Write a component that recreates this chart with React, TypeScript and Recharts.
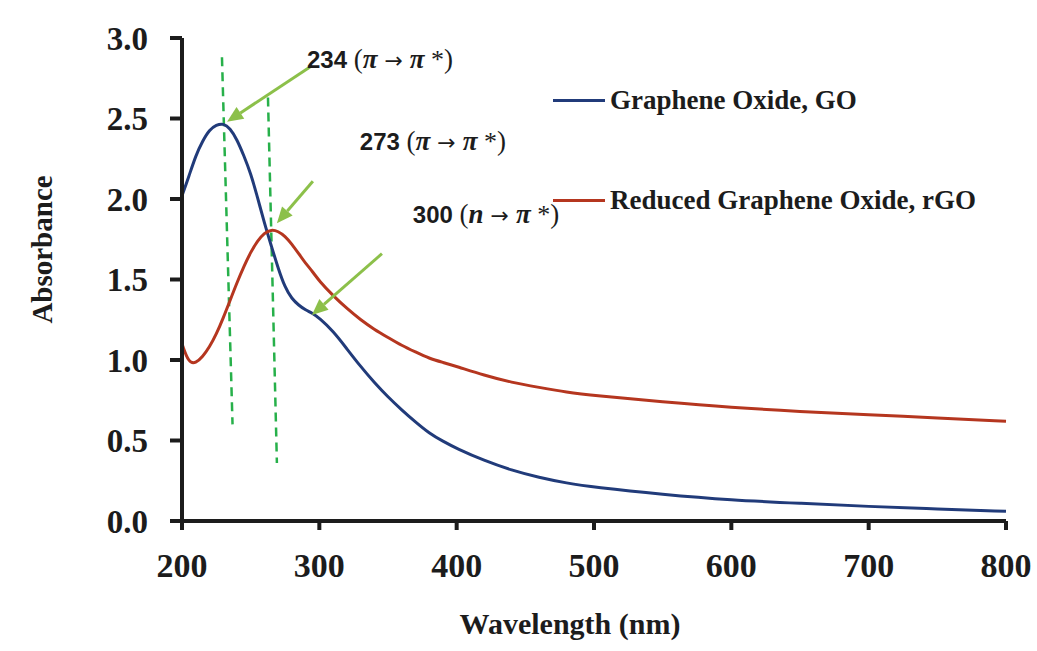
import React from "react";
import {
  LineChart,
  Line,
  XAxis,
  YAxis,
  Legend,
  ReferenceLine,
  ReferenceDot,
} from "recharts";

// UV-Vis spectra
const wavelengths = [
  200, 205, 210, 215, 220, 225, 230, 235, 240, 245, 250, 255, 260, 265, 270,
  275, 280, 285, 290, 295, 300, 310, 320, 330, 340, 350, 360, 370, 380, 390,
  400, 420, 440, 460, 480, 500, 550, 600, 650, 700, 750, 800,
];
const goAbsorbance = [
  2.02, 2.14, 2.27, 2.36, 2.43, 2.46, 2.47, 2.44, 2.37, 2.27, 2.16, 2.01, 1.85,
  1.71, 1.57, 1.45, 1.38, 1.34, 1.31, 1.29, 1.26, 1.18, 1.07, 0.96, 0.86, 0.77,
  0.69, 0.615, 0.545, 0.495, 0.45, 0.375, 0.315, 0.27, 0.235, 0.21, 0.165, 0.13,
  0.11, 0.09, 0.075, 0.06,
];
const rgoAbsorbance = [
  1.1, 0.98, 0.98, 1.02, 1.08, 1.16, 1.26, 1.37, 1.48, 1.58, 1.67, 1.74, 1.79,
  1.81, 1.8, 1.77, 1.72, 1.66, 1.6, 1.55, 1.49, 1.4, 1.32, 1.25, 1.19, 1.14,
  1.09, 1.05, 1.01, 0.985, 0.96, 0.905, 0.86, 0.83, 0.8, 0.78, 0.74, 0.705,
  0.68, 0.66, 0.64, 0.62,
];
const xTicks = [200, 300, 400, 500, 600, 700, 800];
const yTicks = [0, 0.5, 1.0, 1.5, 2.0, 2.5, 3.0];

const seriesNames = ["Graphene Oxide, GO", "Reduced Graphene Oxide, rGO"];
const peakWavelengths = ["234", "273", "300"];
const transitionFrom = ["π", "π", "n"];

const data = wavelengths.map((w, i) => ({
  wavelength: w,
  go: goAbsorbance[i],
  rgo: rgoAbsorbance[i],
}));

const BLUE = "#213b7a";
const RED = "#b5361f";
const INK = "#1c1c1c";
const ARROW = "#8cc04a";
const DASH = "#27b04a";
const serif = "'Liberation Serif', 'Times New Roman', serif";

// where the peak labels and arrows sit (data coordinates)
const labelAnchors = [
  { x: 291, y: 2.814 },
  { x: 329.5, y: 2.304 },
  { x: 368.1, y: 1.851 },
];
const arrows = [
  [{ x: 293.2, y: 2.82 }, { x: 232.8, y: 2.48 }],
  [{ x: 295.3, y: 2.11 }, { x: 269.1, y: 1.85 }],
  [{ x: 345.6, y: 1.66 }, { x: 294.6, y: 1.28 }],
];
const dashedGuides = [
  [{ x: 229.1, y: 2.88 }, { x: 236.8, y: 0.6 }],
  [{ x: 262.6, y: 2.63 }, { x: 269.1, y: 0.36 }],
];

const ArrowShape = (p: any) => {
  const { x1, y1, x2, y2 } = p;
  const ang = Math.atan2(y2 - y1, x2 - x1);
  const len = 16;
  const half = 7;
  const bx = x2 - len * Math.cos(ang);
  const by = y2 - len * Math.sin(ang);
  const px = -Math.sin(ang) * half;
  const py = Math.cos(ang) * half;
  return (
    <g>
      <line x1={x1} y1={y1} x2={bx} y2={by} stroke={ARROW} strokeWidth={3} />
      <polygon
        points={`${x2},${y2} ${bx + px},${by + py} ${bx - px},${by - py}`}
        fill={ARROW}
      />
    </g>
  );
};

const peakLabel = (idx: number) => (p: any) => (
  <text x={p.cx} y={p.cy} fill={INK}>
    <tspan fontFamily="'Liberation Sans', Arial, sans-serif" fontWeight="bold" fontSize={24}>
      {peakWavelengths[idx] + " "}
    </tspan>
    <tspan fontFamily={serif} fontSize={27}>(</tspan>
    <tspan fontFamily={serif} fontSize={27} fontStyle="italic" fontWeight="bold">
      {transitionFrom[idx]}
    </tspan>
    <tspan fontFamily="'DejaVu Sans', sans-serif" fontSize={22}>{" → "}</tspan>
    <tspan fontFamily={serif} fontSize={27} fontStyle="italic" fontWeight="bold">
      π
    </tspan>
    <tspan fontFamily={serif} fontSize={26}>{" *"}</tspan>
    <tspan fontFamily={serif} fontSize={27}>)</tspan>
  </text>
);

const LegendBox = () => (
  <div style={{ fontFamily: serif, fontWeight: "bold", fontSize: 27, color: INK }}>
    {[BLUE, RED].map((c, i) => (
      <div
        key={i}
        style={{
          display: "flex",
          alignItems: "center",
          height: 40,
          marginTop: i === 0 ? 0 : 60,
          whiteSpace: "nowrap",
        }}
      >
        <span style={{ display: "inline-block", width: 52, height: 3, background: c, marginRight: 5 }} />
        {seriesNames[i]}
      </div>
    ))}
  </div>
);

export default function App() {
  return (
    <div style={{ position: "absolute", left: 0, top: 0, width: 1037, height: 651, background: "#fff" }}>
      <LineChart
        width={1037}
        height={651}
        data={data}
        margin={{ top: 38, right: 31, bottom: 0, left: 0 }}
      >
        <XAxis
          type="number"
          dataKey="wavelength"
          domain={[200, 800]}
          ticks={xTicks}
          height={130}
          tickSize={9}
          tickMargin={23}
          axisLine={{ stroke: INK, strokeWidth: 4 }}
          tickLine={{ stroke: INK, strokeWidth: 4 }}
          tick={{ fill: INK, fontSize: 34, fontFamily: serif, fontWeight: "bold" }}
          label={{
            content: (props: any) => {
              const vb = props.viewBox;
              return (
                <text
                  x={vb.x + vb.width / 2 - 24}
                  y={vb.y + 113}
                  textAnchor="middle"
                  fill={INK}
                  fontFamily={serif}
                  fontWeight="bold"
                  fontSize={30}
                >
                  Wavelength (nm)
                </text>
              );
            },
          }}
        />
        <YAxis
          type="number"
          domain={[0, 3]}
          ticks={yTicks}
          width={182}
          tickSize={12}
          tickMargin={22}
          tickFormatter={(v: number) => v.toFixed(1)}
          axisLine={{ stroke: INK, strokeWidth: 4 }}
          tickLine={{ stroke: INK, strokeWidth: 4 }}
          tick={{ fill: INK, fontSize: 33, fontFamily: serif, fontWeight: "bold" }}
          label={{
            content: (props: any) => {
              const vb = props.viewBox;
              const cy = vb.y + vb.height / 2 - 30;
              return (
                <text
                  transform={`translate(${vb.x + 42}, ${cy}) rotate(-90)`}
                  textAnchor="middle"
                  dominantBaseline="central"
                  fill={INK}
                  fontFamily={serif}
                  fontWeight="bold"
                  fontSize={29}
                >
                  Absorbance
                </text>
              );
            },
          }}
        />
        <Legend
          layout="horizontal"
          verticalAlign="middle"
          align="center"
          content={LegendBox}
          wrapperStyle={{ position: "absolute", left: 553, top: 80, width: 470 }}
        />
        {dashedGuides.map((seg, i) => (
          <ReferenceLine
            key={"g" + i}
            segment={seg}
            stroke={DASH}
            strokeWidth={2.5}
            strokeDasharray="9 6"
          />
        ))}
        <Line
          type="basis"
          dataKey="go"
          name={seriesNames[0]}
          stroke={BLUE}
          strokeWidth={3}
          dot={false}
          isAnimationActive={false}
        />
        <Line
          type="basis"
          dataKey="rgo"
          name={seriesNames[1]}
          stroke={RED}
          strokeWidth={3}
          dot={false}
          isAnimationActive={false}
        />
        {arrows.map((seg, i) => (
          <ReferenceLine key={"a" + i} segment={seg} shape={ArrowShape} />
        ))}
        {labelAnchors.map((a, i) => (
          <ReferenceDot key={"l" + i} x={a.x} y={a.y} r={0} shape={peakLabel(i)} />
        ))}
      </LineChart>
    </div>
  );
}
